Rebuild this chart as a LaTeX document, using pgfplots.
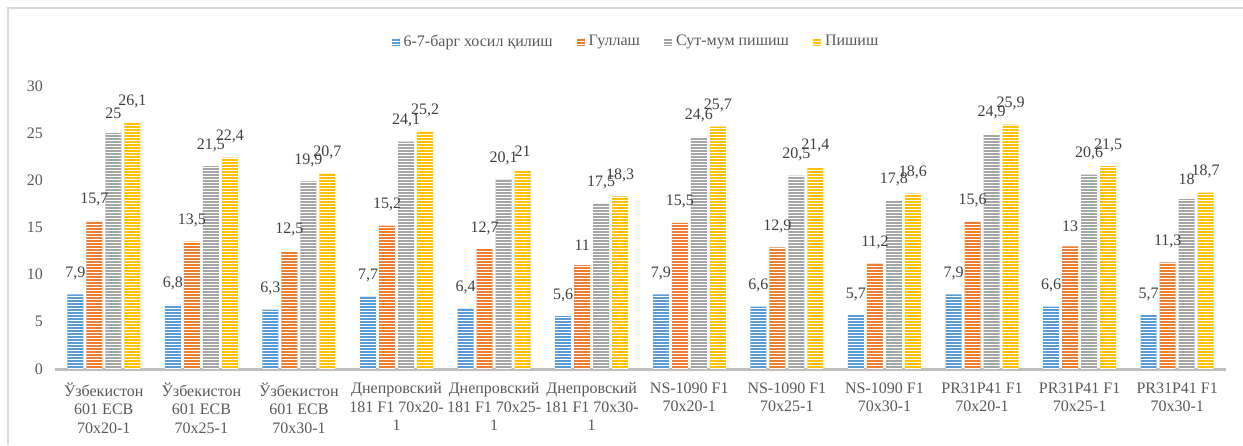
\documentclass[border=0pt]{standalone}
\usepackage{pgfplots}
\pgfplotsset{compat=1.18}
\usepackage{fontspec}
\setmainfont{Liberation Serif}
\usetikzlibrary{patterns}
\definecolor{sblue}{HTML}{5B9BD5}
\definecolor{sorange}{HTML}{ED7D31}
\definecolor{sgray}{HTML}{A5A5A5}
\definecolor{syellow}{HTML}{FFC000}
\definecolor{txtgray}{HTML}{595959}
\definecolor{lblgray}{HTML}{404040}
\definecolor{axgray}{HTML}{BFBFBF}
\definecolor{framegray}{HTML}{D9D9D9}
\pgfdeclarepatternformonly{hstripes}{\pgfqpoint{-0.1pt}{-0.1pt}}{\pgfqpoint{1.6pt}{1.6pt}}{\pgfqpoint{1.5pt}{1.5pt}}{%
  \pgfsetlinewidth{0.4pt}%
  \pgfpathmoveto{\pgfqpoint{-0.1pt}{0.75pt}}%
  \pgfpathlineto{\pgfqpoint{1.6pt}{0.75pt}}%
  \pgfusepath{stroke}}
\pgfplotsset{stripebar/.style={fill=#1, draw=none, postaction={pattern=hstripes, pattern color=white, fill opacity=0.75}}}
\begin{document}
\begin{tikzpicture}
\path[use as bounding box] (0,0) rectangle (621.5pt,222.5pt);
\draw[framegray, line width=0.8pt] (4pt,0) -- (4pt,218.5pt) -- (621.5pt,218.5pt);
\begin{axis}[
  at={(27.5pt,38pt)}, anchor=south west,
  scale only axis,
  width=585.5pt, height=141.5pt,
  xmin=-0.5, xmax=11.5,
  ymin=0, ymax=30,
  ytick={0,5,...,30},
  xtick={0,...,11},
  xticklabels={{Ўзбекистон\\601 ECB\\70x20-1},{Ўзбекистон\\601 ECB\\70x25-1},{Ўзбекистон\\601 ECB\\70x30-1},
    {Днепровский\\181 F1 70x20-\\1},{Днепровский\\181 F1 70x25-\\1},{Днепровский\\181 F1 70x30-\\1},
    {NS-1090 F1\\70x20-1},{NS-1090 F1\\70x25-1},{NS-1090 F1\\70x30-1},
    {PR31P41 F1\\70x20-1},{PR31P41 F1\\70x25-1},{PR31P41 F1\\70x30-1}},
  axis x line*=bottom,
  axis y line*=left,
  x axis line style={line width=1.5pt, axgray, -},
  y axis line style={draw=none},
  major tick length=0pt,
  tick style={draw=none},
  x tick label style={align=center, font=\fontsize{8}{9.3}\selectfont, text=txtgray, yshift=-3.2pt},
  y tick label style={font=\fontsize{8}{9}\selectfont, text=txtgray, xshift=-2.5pt},
  /pgf/number format/assume math mode=true,
  ybar=1.5pt, bar width=8pt,
  nodes near coords,
  nodes near coords style={font=\fontsize{8}{9}\selectfont, text=lblgray, yshift=3.8pt, /pgf/number format/.cd, use comma, fixed, precision=1, assume math mode=true},
  clip=false,
  legend columns=4,
  legend style={at={(0.497,1.155)}, anchor=center, draw=none, fill=none,
    font=\fontsize{8}{9}\selectfont, text=txtgray,
    /tikz/every even column/.append style={column sep=10pt}},
  legend cell align=left,
  legend image code/.code={\fill[#1] (0pt,-2pt) rectangle (4pt,2pt);},
]
\addplot[stripebar=sblue] coordinates {
(0,7.9) (1,6.8) (2,6.3) (3,7.7) (4,6.4) (5,5.6) (6,7.9) (7,6.6) (8,5.7) (9,7.9) (10,6.6) (11,5.7)};
\addplot[stripebar=sorange] coordinates {
(0,15.7) (1,13.5) (2,12.5) (3,15.2) (4,12.7) (5,11) (6,15.5) (7,12.9) (8,11.2) (9,15.6) (10,13) (11,11.3)};
\addplot[stripebar=sgray] coordinates {
(0,25) (1,21.5) (2,19.9) (3,24.1) (4,20.1) (5,17.5) (6,24.6) (7,20.5) (8,17.8) (9,24.9) (10,20.6) (11,18)};
\addplot[stripebar=syellow] coordinates {
(0,26.1) (1,22.4) (2,20.7) (3,25.2) (4,21) (5,18.3) (6,25.7) (7,21.4) (8,18.6) (9,25.9) (10,21.5) (11,18.7)};
\legend{6-7-барг хосил қилиш, Гуллаш, Сут-мум пишиш, Пишиш}
\end{axis}
\end{tikzpicture}
\end{document}
